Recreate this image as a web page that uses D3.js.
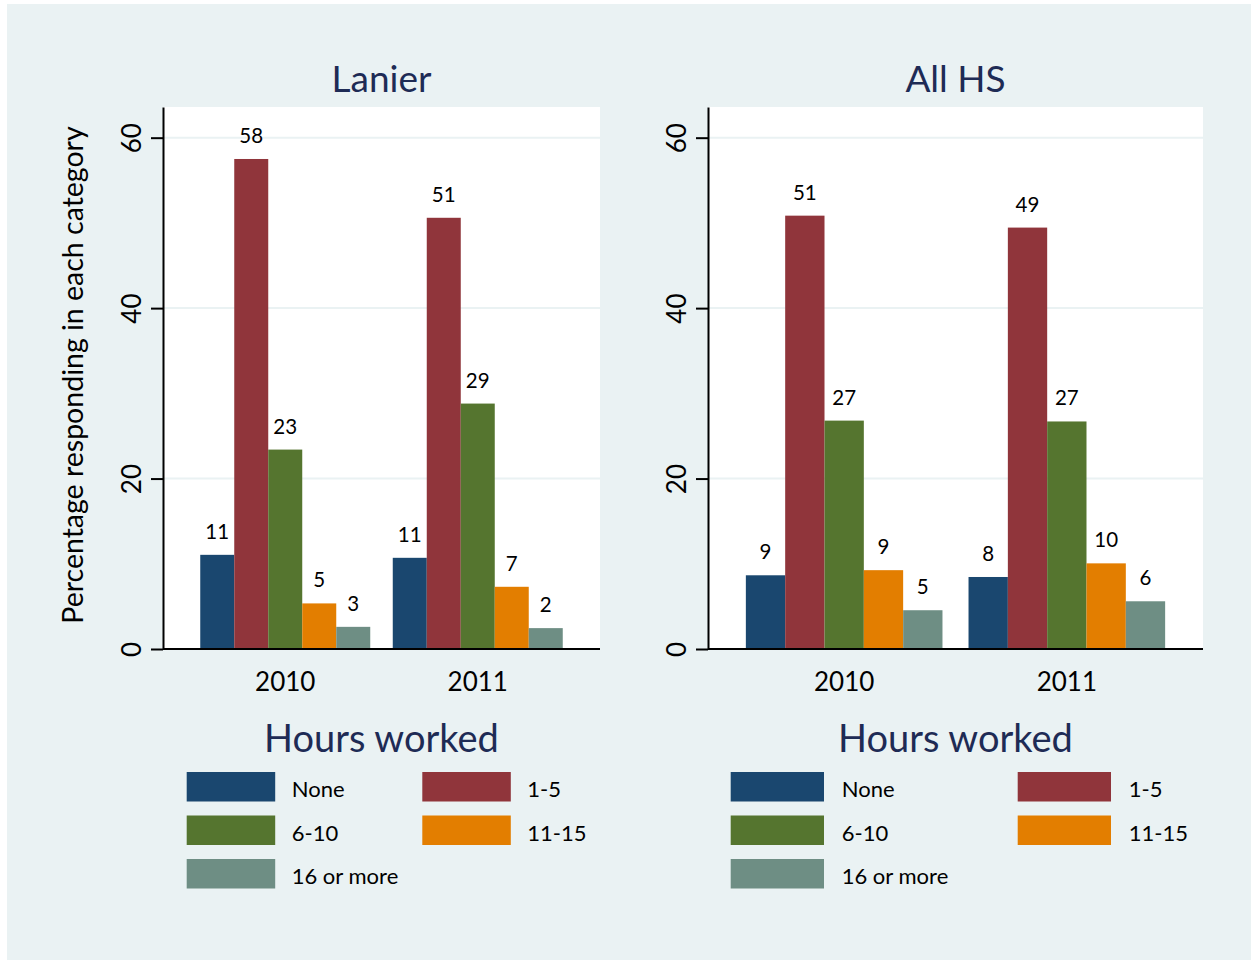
<!DOCTYPE html>
<html>
<head>
<meta charset="utf-8">
<script src="https://cdn.jsdelivr.net/npm/d3@7"></script>
<style>
    body { margin: 0; background: #ffffff; }
    text { font-family: Lato, "DejaVu Sans", sans-serif; }
</style>
</head>
<body>
<script>
// données
var years = ["2010", "2011"];
var hours = ["None", "1-5", "6-10", "11-15", "16 or more"];
var colors = ["#1a476f", "#90353b", "#55752f", "#e37e00", "#6e8e84"];
var yTicks = [0, 20, 40, 60];

var lanier2010 = [11.05, 57.5, 23.4, 5.35, 2.6];
var lanier2011 = [10.7, 50.6, 28.8, 7.3, 2.45];
var allhs2010 = [8.65, 50.85, 26.8, 9.25, 4.55];
var allhs2011 = [8.45, 49.45, 26.7, 10.05, 5.6];

var panelTitles = ["Lanier", "All HS"];
var legendTitle = "Hours worked";
var yTitle = "Percentage responding in each category";

var width = 1251;
var height = 960;

var svg = d3.select("body")
    .append("svg")
    .attr("width", width)
    .attr("height", height);

// fond du graphique
svg.append("rect")
    .attr("x", 7)
    .attr("y", 4)
    .attr("width", width - 7)
    .attr("height", height - 4)
    .attr("fill", "#eaf2f3");

var yscale = d3.scaleLinear()
    .domain([0, 63.6])
    .range([649, 107]);

// réglages de chaque panneau
var panels = [
    { title: panelTitles[0], values: [lanier2010, lanier2011], x0: 163, x1: 600, outer: 0.1935,
      swX: [186.7, 422.3], swW: 88.5, labDx: 105 },
    { title: panelTitles[1], values: [allhs2010, allhs2011], x0: 708, x1: 1203, outer: 0.17,
      swX: [730.7, 1017.7], swW: 93.3, labDx: 111 }
];

var fmt = d3.format(".0f");

panels.forEach(function (p) {
    var g = svg.append("g");

    var xscale = d3.scaleBand()
        .domain(years)
        .range([p.x0, p.x1])
        .paddingInner(0.117)
        .paddingOuter(p.outer);

    var xinner = d3.scaleBand()
        .domain(hours)
        .range([0, xscale.bandwidth()])
        .padding(0);

    var cx = (p.x0 + p.x1) / 2;

    // zone du tracé
    g.append("rect")
        .attr("x", p.x0)
        .attr("y", yscale.range()[1])
        .attr("width", p.x1 - p.x0)
        .attr("height", yscale.range()[0] - yscale.range()[1])
        .attr("fill", "#ffffff");

    // grille
    g.selectAll(".grid")
        .data(yTicks.filter(function (d) { return d > 0; }))
        .enter()
        .append("line")
        .attr("x1", p.x0)
        .attr("x2", p.x1)
        .attr("y1", function (d) { return yscale(d); })
        .attr("y2", function (d) { return yscale(d); })
        .attr("stroke", "#eaf2f3")
        .attr("stroke-width", 2);

    // titre
    g.append("text")
        .attr("x", cx)
        .attr("y", 92)
        .attr("text-anchor", "middle")
        .attr("font-size", 37)
        .attr("fill", "#1e2b55")
        .text(p.title);

    // barres
    var groups = g.selectAll(".year")
        .data(years)
        .enter()
        .append("g")
        .attr("transform", function (d) { return "translate(" + xscale(d) + ",0)"; });

    groups.selectAll("rect")
        .data(function (d, i) {
            return p.values[i].map(function (v, j) { return { key: hours[j], value: v, color: colors[j] }; });
        })
        .enter()
        .append("rect")
        .attr("x", function (d) { return xinner(d.key); })
        .attr("y", function (d) { return yscale(d.value); })
        .attr("width", xinner.bandwidth())
        .attr("height", function (d) { return yscale(0) - yscale(d.value); })
        .attr("fill", function (d) { return d.color; });

    groups.selectAll("text")
        .data(function (d, i) {
            return p.values[i].map(function (v, j) { return { key: hours[j], value: v }; });
        })
        .enter()
        .append("text")
        .attr("x", function (d) { return xinner(d.key) + xinner.bandwidth() / 2; })
        .attr("y", function (d) { return yscale(d.value) - 16; })
        .attr("text-anchor", "middle")
        .attr("font-size", 20.5)
        .attr("fill", "#000")
        .text(function (d) { return fmt(d.value); });

    // axe y
    var y_axis = d3.axisLeft()
        .scale(yscale)
        .tickValues(yTicks)
        .tickSize(12)
        .tickSizeOuter(0)
        .tickFormat(d3.format("d"));

    var ag = g.append("g")
        .attr("transform", "translate(" + p.x0 + ",0)")
        .call(y_axis);
    ag.select(".domain").attr("stroke", "#000").attr("stroke-width", 2);
    ag.selectAll(".tick line").attr("stroke", "#000").attr("stroke-width", 2);
    ag.selectAll(".tick text")
        .attr("x", 0)
        .attr("y", 0)
        .attr("dy", null)
        .attr("text-anchor", "middle")
        .attr("transform", "translate(-22,0) rotate(-90)")
        .attr("font-size", 26)
        .attr("font-family", "Lato, 'DejaVu Sans', sans-serif")
        .attr("fill", "#000");

    // axe x
    g.append("line")
        .attr("x1", p.x0)
        .attr("x2", p.x1)
        .attr("y1", yscale(0))
        .attr("y2", yscale(0))
        .attr("stroke", "#000")
        .attr("stroke-width", 2);

    g.selectAll(".xlab")
        .data(years)
        .enter()
        .append("text")
        .attr("x", function (d) { return xscale(d) + xscale.bandwidth() / 2; })
        .attr("y", 691)
        .attr("text-anchor", "middle")
        .attr("font-size", 26)
        .attr("fill", "#000")
        .text(function (d) { return d; });

    // légende
    g.append("text")
        .attr("x", cx)
        .attr("y", 752)
        .attr("text-anchor", "middle")
        .attr("font-size", 38)
        .attr("fill", "#1e2b55")
        .text(legendTitle);

    var rowsY = [772, 815.5, 859];
    var items = g.selectAll(".leg")
        .data(hours)
        .enter()
        .append("g")
        .attr("transform", function (d, i) {
            return "translate(" + p.swX[i % 2] + "," + rowsY[Math.floor(i / 2)] + ")";
        });

    items.append("rect")
        .attr("width", p.swW)
        .attr("height", 29.5)
        .attr("fill", function (d, i) { return colors[i]; });

    items.append("text")
        .attr("x", p.labDx)
        .attr("y", 25)
        .attr("font-size", 22)
        .attr("fill", "#000")
        .text(function (d) { return d; });
});

// titre de l'axe y
svg.append("text")
    .attr("transform", "translate(83,375) rotate(-90)")
    .attr("text-anchor", "middle")
    .attr("font-size", 28.5)
    .attr("fill", "#000")
    .text(yTitle);
</script>
</body>
</html>
